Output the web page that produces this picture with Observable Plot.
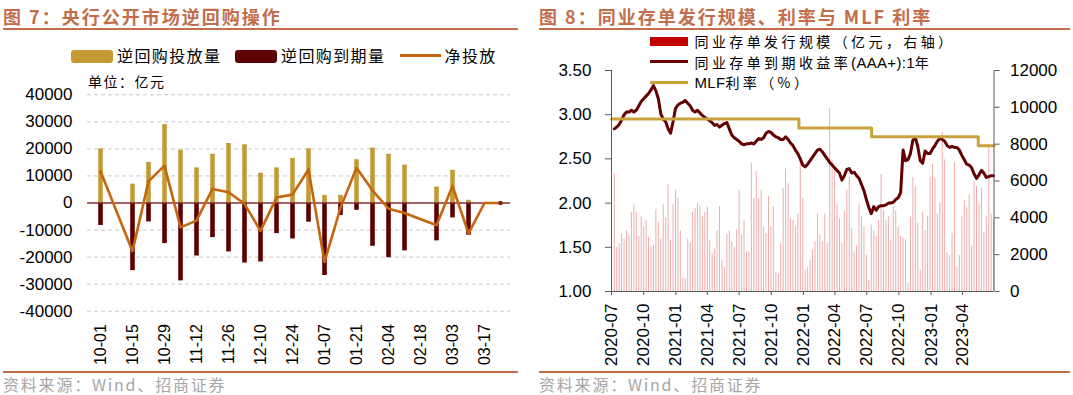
<!DOCTYPE html>
<html><head><meta charset="utf-8">
<script src="https://cdn.jsdelivr.net/npm/d3@7"></script>
<script src="https://cdn.jsdelivr.net/npm/@observablehq/plot@0.6"></script>
<style>
body{margin:0;background:#fff;}
#wrap{position:relative;width:1073px;height:395px;overflow:hidden;font-family:"Noto Sans CJK SC","Noto Sans",sans-serif;}
.abs{position:absolute;white-space:nowrap;}
.title{font-size:18px;font-weight:700;color:#C26E4B;letter-spacing:2px;line-height:22px;}
.rule{position:absolute;background:#C26E4B;}
.src{font-size:16px;color:#A6A6A6;letter-spacing:1.8px;line-height:20px;}
.leg{font-size:16px;color:#000;letter-spacing:1.4px;line-height:18px;}
.leg2{font-size:14px;color:#000;letter-spacing:3.4px;line-height:18px;}
.lat{font-family:"Liberation Sans",Arial,sans-serif;font-size:15px;letter-spacing:0.3px;}
.sw{position:absolute;}
#wrap svg{position:absolute;top:0;}
</style></head><body><div id="wrap">
<div class="abs title" style="left:3px;top:5px;">图 7：央行公开市场逆回购操作</div>
<div class="rule" style="left:3px;top:28.3px;width:515px;height:2.2px;"></div>
<div class="abs title" style="left:539px;top:5px;">图 8：同业存单发行规模、利率与 MLF 利率</div>
<div class="rule" style="left:539px;top:28.3px;width:531px;height:2.2px;"></div>
<div class="rule" style="left:3px;top:370.6px;width:515px;height:2.2px;"></div>
<div class="rule" style="left:539px;top:370.6px;width:531px;height:2.2px;"></div>
<div class="abs src" style="left:3px;top:374px;">资料来源：Wind、招商证券</div>
<div class="abs src" style="left:539px;top:374px;">资料来源：Wind、招商证券</div>

<div class="sw" style="left:71px;top:49.5px;width:42px;height:13px;background:#C49A35;border-radius:3px;"></div>
<div class="abs leg" style="left:117px;top:46px;">逆回购投放量</div>
<div class="sw" style="left:235px;top:49.5px;width:42px;height:13px;background:#5E0000;border-radius:3px;"></div>
<div class="abs leg" style="left:281px;top:46px;">逆回购到期量</div>
<div class="sw" style="left:400px;top:54.3px;width:41px;height:3px;background:#C5650F;"></div>
<div class="abs leg" style="left:444.5px;top:46px;">净投放</div>
<div class="abs" style="left:88px;top:72px;font-size:14px;letter-spacing:1.5px;line-height:18px;">单位：亿元</div>

<div class="sw" style="left:650px;top:36.5px;width:38px;height:9.4px;background:#C00000;"></div>
<div class="abs leg2" style="left:694.5px;top:32px;">同业存单发行规模（亿元，右轴）</div>
<div class="sw" style="left:650px;top:60.1px;width:38px;height:2.8px;background:#6B0000;"></div>
<div class="abs leg2" style="left:694.5px;top:52.5px;">同业存单到期收益率<span class="lat">(AAA+):1</span>年</div>
<div class="sw" style="left:650px;top:80.5px;width:38px;height:3px;background:#C9A23D;"></div>
<div class="abs leg2" style="left:694.5px;top:73px;"><span class="lat">MLF</span>利率（%）</div>
</div>
<script>
// ---------- Figure 7 data (亿元) ----------
const weekCats = ["10-01","10-08","10-15","10-22","10-29","11-05","11-12","11-19","11-26","12-03","12-10","12-17","12-24","12-31","01-07","01-14","01-21","01-28","02-04","02-11","02-18","02-25","03-03","03-10","03-17","03-24"];
const repoPut = [20000,null,7000,15000,29000,19500,13000,18000,22000,21500,11000,13000,16500,20000,2800,2800,16000,20300,18000,14000,null,5900,12100,1000,null,null];
const repoMature = [-8300,null,-25000,-7000,-15000,-28800,-19600,-12800,-18100,-22200,-21800,-11300,-13300,-7100,-26800,-4600,-2700,-16000,-20200,-17700,null,-14000,-5500,-11900,null,null];
const repoNet = [11700,null,-17800,8000,13800,-9000,-6500,5200,4000,-300,-10300,2000,3100,12400,-21800,-1800,13000,4600,-2100,-3700,null,-8200,6300,-11200,0,0];
const leftYTicks = [-40000,-30000,-20000,-10000,0,10000,20000,30000,40000];
const leftXLabels = ["10-01","10-15","10-29","11-12","11-26","12-10","12-24","01-07","01-21","02-04","02-18","03-03","03-17"];

// ---------- Figure 8 data ----------
const firstWeek = "2020-07-09"; // weekly observations
const ncdIssue = [6400,2400,2600,3100,2850,3300,3050,4300,4700,4300,3000,4050,3500,3850,2950,2450,2500,4450,3750,2850,4700,4000,5800,2750,4700,5500,5050,3300,700,700,2850,2650,4300,4500,4800,4650,4050,4300,4600,
2750,2050,2300,3300,4600,1700,1300,3100,3300,2700,2400,3350,5500,3050,3850,2150,2150,6950,5050,6500,5050,5500,3500,3150,5150,3500,4600,1050,950,2600,5600,6650,5850,3950,3850,3500,4200,7100,5050,
1150,1300,1700,2250,2700,4200,3050,2700,4200,2600,9950,7150,6550,4750,3950,2600,4350,5500,6200,3400,2150,2500,4750,4050,3500,1950,600,3600,3300,3000,3850,6350,4400,3850,4050,2750,4600,4400,3500,
2990,2910,2810,420,4040,6200,5700,3700,1150,4300,3300,4100,6200,6900,6150,4200,4800,8650,7150,2100,1950,3150,7000,1300,1950,4050,4950,4550,5250,2450,5950,5700,4750,5600,3200,4050,8000,4200,3900];
const ncdYield = [2.84,2.86,2.89,2.94,3.00,3.03,3.03,3.05,3.03,3.05,3.10,3.15,3.18,3.21,3.24,3.28,3.33,3.27,3.18,3.01,2.95,2.92,2.84,2.79,2.92,3.07,3.11,3.13,3.14,3.16,3.13,3.10,3.05,3.03,3.05,3.02,2.99,2.97,2.95,
2.93,2.91,2.88,2.89,2.86,2.88,2.90,2.91,2.84,2.77,2.74,2.72,2.70,2.67,2.66,2.67,2.67,2.68,2.67,2.70,2.73,2.72,2.74,2.79,2.81,2.80,2.77,2.75,2.74,2.72,2.72,2.75,2.72,2.68,2.65,2.60,2.56,2.50,2.43,
2.41,2.44,2.48,2.52,2.56,2.60,2.61,2.58,2.54,2.50,2.46,2.43,2.40,2.37,2.34,2.26,2.31,2.38,2.39,2.34,2.35,2.31,2.28,2.21,2.14,2.04,1.95,1.88,1.96,1.92,1.96,1.97,1.97,1.98,2.00,2.00,2.01,2.04,2.06,2.12,
2.60,2.48,2.49,2.56,2.71,2.74,2.64,2.48,2.45,2.59,2.56,2.56,2.61,2.65,2.70,2.73,2.72,2.70,2.65,2.63,2.64,2.63,2.63,2.60,2.54,2.49,2.44,2.43,2.40,2.33,2.28,2.32,2.37,2.34,2.29,2.30,2.31,2.31];
const mlfDates = ["2020-07-01","2021-12-19","2022-07-15","2023-05-16","2023-06-30"];
const mlfRate = [2.95,2.85,2.75,2.65,2.65];
const quarterTicks = ["2020-07-01","2020-10-01","2021-01-01","2021-04-01","2021-07-01","2021-10-01","2022-01-01","2022-04-01","2022-07-01","2022-10-01","2023-01-01","2023-04-01"];
const rateTicks = [1.0,1.5,2.0,2.5,3.0,3.5];
const issueTicks = [0,2000,4000,6000,8000,10000,12000];

const wrap = document.getElementById("wrap");
const numFont = '"Liberation Sans", Arial, sans-serif';

// ---------- Figure 7 ----------
const rows7 = weekCats.map((c, i) => ({c, put: repoPut[i], mat: repoMature[i], net: repoNet[i]}));
const chart7 = Plot.plot({
  width: 536, height: 395,
  marginLeft: 87, marginRight: 26, marginTop: 94.3, marginBottom: 84.3,
  style: {fontFamily: numFont, fontSize: "17px", color: "#000", background: "transparent", overflow: "visible"},
  x: {type: "point", domain: weekCats, range: [90, 509], axis: null, label: null},
  y: {domain: [-40000, 40000], axis: null, label: null},
  marks: [
    Plot.ruleY(leftYTicks.filter(v => v !== 0), {stroke: "#C8C8C8", strokeDasharray: "4,3", strokeWidth: 1}),
    Plot.ruleX(rows7.filter(d => d.put != null), {x: "c", y1: 0, y2: "put", stroke: "#C49A35", strokeWidth: 4.6}),
    Plot.ruleX(rows7.filter(d => d.mat != null), {x: "c", y1: 0, y2: "mat", stroke: "#5E0000", strokeWidth: 4.6}),
    Plot.ruleY([0], {stroke: "#7E3030", strokeWidth: 1.6}),
    Plot.line(rows7.filter(d => d.net != null), {x: "c", y: "net", stroke: "#C5650F", strokeWidth: 2.6}),
    Plot.dot(rows7.slice(-1), {x: "c", y: "net", r: 2.3, fill: "#7E2A10"}),
    Plot.axisY({ticks: leftYTicks, tickSize: 0, tickPadding: 15, fontSize: 17, label: null, tickFormat: d => String(d)}),
    Plot.axisX({ticks: leftXLabels, tickSize: 0, tickRotate: -90, tickPadding: 13, fontSize: 16, label: null})
  ]
});
chart7.style.left = "0px";
wrap.appendChild(chart7);

// ---------- Figure 8 ----------
const toRate = d3.scaleLinear([0, 12000], [1, 3.5]);
const start = new Date(firstWeek);
const rows8 = ncdIssue.map((v, i) => ({date: d3.utcDay.offset(start, 7 * i), issue: v, yld: ncdYield[i]}));
const mlf = mlfDates.map((d, i) => ({date: new Date(d), rate: mlfRate[i]}));
const xDom = [new Date("2020-07-01"), new Date("2023-06-30")];
const axisColor = "#595959";
const chart8 = Plot.plot({
  width: 537, height: 395,
  marginLeft: 75, marginRight: 79.5, marginTop: 70, marginBottom: 104,
  style: {fontFamily: numFont, fontSize: "17px", color: "#000", background: "transparent", overflow: "visible"},
  x: {type: "utc", domain: xDom, axis: null, label: null},
  y: {domain: [1, 3.5], axis: null, label: null},
  marks: [
    Plot.ruleX(rows8, {x: "date", y1: 1, y2: d => toRate(d.issue), stroke: "#EFACAC", strokeWidth: 1}),
    Plot.line(rows8, {x: "date", y: "yld", stroke: "#650000", strokeWidth: 3}),
    Plot.line(mlf, {x: "date", y: "rate", curve: "step-after", stroke: "#C9A23D", strokeWidth: 3}),
    Plot.ruleX([xDom[0]], {y1: 1, y2: 3.5, stroke: axisColor, strokeWidth: 1}),
    Plot.ruleX([xDom[1]], {y1: 1, y2: 3.5, stroke: axisColor, strokeWidth: 1}),
    Plot.ruleY([1], {stroke: axisColor, strokeWidth: 1}),
    Plot.axisY({anchor: "left", ticks: rateTicks, tickFormat: d3.format(".2f"), tickSize: 6, tickPadding: 14, stroke: axisColor, fontSize: 17, label: null}),
    Plot.axisY({anchor: "right", ticks: issueTicks.map(toRate), tickFormat: d => String(Math.round(toRate.invert(d))), tickSize: 5, tickPadding: 11, stroke: axisColor, fontSize: 17, label: null}),
    Plot.axisX({ticks: quarterTicks.map(d => new Date(d)), tickFormat: d3.utcFormat("%Y-%m"), tickRotate: -90, tickSize: 4, tickPadding: 8, stroke: axisColor, fontSize: 17, label: null})
  ]
});
chart8.style.left = "536px";
wrap.appendChild(chart8);
</script></body></html>
